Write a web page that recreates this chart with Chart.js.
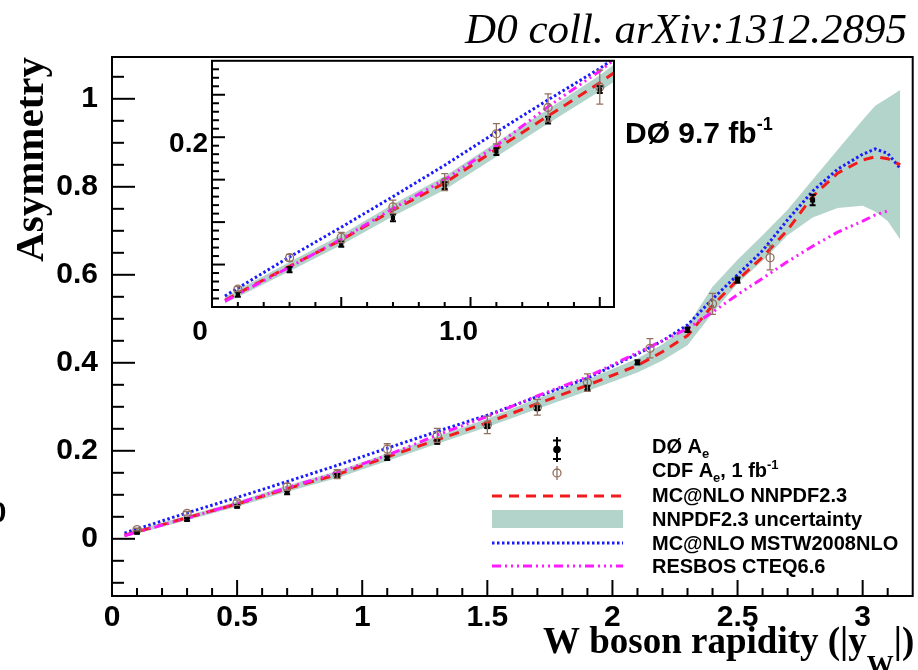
<!DOCTYPE html>
<html>
<head>
<meta charset="utf-8">
<title>W boson charge asymmetry</title>
<script src="https://cdn.jsdelivr.net/npm/chart.js@4.4.1/dist/chart.umd.min.js"></script>
<style>
  body { margin: 0; background: #fff; }
  #wrap { position: relative; width: 918px; height: 670px; overflow: hidden; }
  #main { position: absolute; left: 0; top: 0; }
  #inset { position: absolute; left: 150px; top: 40px; }
</style>
</head>
<body>
<div id="wrap">
  <canvas id="main" width="918" height="670"></canvas>
  <canvas id="inset" width="480" height="310"></canvas>
</div>
<script>
// DØ electron asymmetry (bin centres in |y_W|)
const d0X   = [0.1, 0.3, 0.5, 0.7, 0.9, 1.1, 1.3, 1.5, 1.7, 1.9, 2.1, 2.3, 2.5, 2.8];
const d0Y   = [0.015, 0.044, 0.074, 0.105, 0.143, 0.183, 0.220, 0.256, 0.297, 0.343, 0.401, 0.475, 0.588, 0.770];
const d0Err = [0.003, 0.003, 0.003, 0.004, 0.004, 0.004, 0.004, 0.004, 0.004, 0.005, 0.005, 0.005, 0.006, 0.012];

// CDF 1 fb-1 result
const cdfX   = [0.1, 0.3, 0.5, 0.7, 0.9, 1.1, 1.3, 1.5, 1.7, 1.9, 2.15, 2.4, 2.63];
const cdfY   = [0.021, 0.058, 0.082, 0.118, 0.147, 0.204, 0.235, 0.259, 0.299, 0.355, 0.433, 0.534, 0.639];
const cdfErr = [0.003, 0.004, 0.006, 0.008, 0.010, 0.012, 0.016, 0.020, 0.018, 0.020, 0.022, 0.024, 0.028];

// predictions
const curveX  = [0.05, 0.3, 0.5, 0.7, 0.9, 1.1, 1.3, 1.5, 1.7, 1.9, 2.1, 2.2, 2.3, 2.4, 2.5, 2.6, 2.7, 2.8, 2.9, 3.0, 3.05, 3.1, 3.15];
const nnpdf   = [0.008, 0.048, 0.079, 0.114, 0.146, 0.186, 0.225, 0.264, 0.307, 0.349, 0.394, 0.425, 0.462, 0.530, 0.588, 0.640, 0.702, 0.778, 0.831, 0.861, 0.868, 0.864, 0.850];
const nnpdfHi = [0.012, 0.053, 0.085, 0.121, 0.154, 0.194, 0.233, 0.273, 0.319, 0.362, 0.410, 0.442, 0.484, 0.573, 0.634, 0.690, 0.748, 0.816, 0.884, 0.952, 0.984, 1.002, 1.020];
const nnpdfLo = [0.004, 0.042, 0.073, 0.107, 0.138, 0.177, 0.216, 0.254, 0.295, 0.336, 0.378, 0.405, 0.440, 0.513, 0.580, 0.632, 0.690, 0.730, 0.752, 0.757, 0.744, 0.722, 0.680];
const mstw    = [0.013, 0.059, 0.094, 0.130, 0.167, 0.206, 0.244, 0.281, 0.323, 0.365, 0.420, 0.450, 0.486, 0.545, 0.600, 0.655, 0.725, 0.790, 0.840, 0.874, 0.886, 0.876, 0.842];
const resbos  = [0.007, 0.047, 0.080, 0.116, 0.150, 0.190, 0.236, 0.278, 0.325, 0.368, 0.423, 0.450, 0.478, 0.515, 0.555, 0.592, 0.630, 0.665, 0.697, 0.722, 0.736, 0.745, null];

// tick labels
const mainXLabels  = ['0', '0.5', '1', '1.5', '2', '2.5', '3'];
const mainYLabels  = ['0', '0.2', '0.4', '0.6', '0.8', '1'];
const insetXLabels = ['0', '1.0'];
const insetYLabels = ['0.2'];

const SANS  = '"Liberation Sans", Arial, sans-serif';
const SERIF = '"Liberation Serif", "Times New Roman", serif';
const RED = '#f21b1b', BLUE = '#1a1aff', MAGENTA = '#ff1aff', BROWN = '#93705f', BAND = '#b3d4cb';

Chart.defaults.font.family = SANS;
Chart.defaults.font.weight = 'bold';
Chart.defaults.color = '#000';

function tickValues(from, to, step) {
  const out = [];
  for (let v = from; v <= to + step / 2; v += step) out.push(Math.round(v * 1000) / 1000);
  return out;
}

const labelFrom = list => v => {
  const l = list.find(s => Math.abs(parseFloat(s) - v) < 1e-6);
  return l === undefined ? '' : l;
};

const pts = (xs, ys) => xs.map((x, i) => ({ x, y: ys[i] }));

function makeDatasets(small) {
  return [
    { label: 'DØ', data: pts(d0X, d0Y), showLine: false, pointStyle: 'rect',
      pointRadius: small ? 3 : 3.5, pointBackgroundColor: '#000', pointBorderColor: '#000', pointBorderWidth: 0,
      errors: d0Err, errColor: '#000', errWidth: 2, capHalf: 3, order: 1 },
    { label: 'CDF', data: pts(cdfX, cdfY), showLine: false, pointStyle: 'circle',
      pointRadius: 4, pointBackgroundColor: 'rgba(0,0,0,0)', pointBorderColor: BROWN, pointBorderWidth: 1.3,
      errors: cdfErr, errColor: BROWN, errWidth: 1.3, capHalf: 3.5, order: 2 },
    { label: 'RESBOS CTEQ6.6', data: pts(curveX, resbos), borderColor: MAGENTA, borderWidth: 3,
      borderDash: [9, 4, 2, 4, 2, 4, 2, 4], pointRadius: 0, order: 3 },
    { label: 'MC@NLO NNPDF2.3', data: pts(curveX, nnpdf), borderColor: RED, borderWidth: 3,
      borderDash: [10, 7], pointRadius: 0, order: 4 },
    { label: 'MC@NLO MSTW2008NLO', data: pts(curveX, mstw), borderColor: BLUE, borderWidth: 3,
      borderDash: [2.5, 2.5], pointRadius: 0, order: 5 },
    { label: 'band low', data: pts(curveX, nnpdfLo), borderColor: 'rgba(0,0,0,0)', borderWidth: 1,
      pointRadius: 0, fill: false, order: 10 },
    { label: 'NNPDF2.3 uncertainty', data: pts(curveX, nnpdfHi), borderColor: 'rgba(0,0,0,0)', borderWidth: 1,
      pointRadius: 0, fill: '-1', backgroundColor: BAND, order: 9 }
  ];
}

// ticks pointing into the frame, plus the frame itself
const innerTicks = {
  id: 'innerTicks',
  afterDraw(chart, args, opts) {
    const { ctx, chartArea: a } = chart;
    ctx.save();
    ctx.strokeStyle = '#000';
    ctx.lineWidth = 2;
    ['x', 'y'].forEach(id => {
      const s = chart.scales[id];
      const t = opts[id];
      s.ticks.forEach(tk => {
        const p = s.getPixelForValue(tk.value);
        const r = tk.value / t.major;
        const len = Math.abs(r - Math.round(r)) < 1e-6 ? t.long : t.short;
        ctx.beginPath();
        if (id === 'x') {
          if (p < a.left + 2 || p > a.right - 2) return;
          ctx.moveTo(p, a.bottom); ctx.lineTo(p, a.bottom - len);
        } else {
          if (p < a.top + 2 || p > a.bottom - 2) return;
          ctx.moveTo(a.left, p); ctx.lineTo(a.left + len, p);
        }
        ctx.stroke();
      });
    });
    ctx.strokeRect(a.left, a.top, a.right - a.left, a.bottom - a.top);
    ctx.restore();
  }
};

// vertical error bars with caps
const errorBars = {
  id: 'errorBars',
  afterDatasetsDraw(chart) {
    const { ctx, chartArea: a, scales: { x, y } } = chart;
    ctx.save();
    ctx.beginPath();
    ctx.rect(a.left, a.top, a.right - a.left, a.bottom - a.top);
    ctx.clip();
    chart.data.datasets.forEach(ds => {
      if (!ds.errors) return;
      ctx.strokeStyle = ds.errColor;
      ctx.lineWidth = ds.errWidth;
      ds.data.forEach((pt, i) => {
        const px = x.getPixelForValue(pt.x);
        const y1 = y.getPixelForValue(pt.y - ds.errors[i]);
        const y2 = y.getPixelForValue(pt.y + ds.errors[i]);
        ctx.beginPath();
        ctx.moveTo(px, y1); ctx.lineTo(px, y2);
        ctx.moveTo(px - ds.capHalf, y1); ctx.lineTo(px + ds.capHalf, y1);
        ctx.moveTo(px - ds.capHalf, y2); ctx.lineTo(px + ds.capHalf, y2);
        ctx.stroke();
      });
    });
    ctx.restore();
  }
};

function richText(ctx, x, y, parts, family, weight) {
  parts.forEach(p => {
    ctx.font = `${weight} ${p.size}px ${family}`;
    ctx.fillText(p.t, x, y + (p.dy || 0));
    x += ctx.measureText(p.t).width;
  });
  return x;
}

function strokeSample(ctx, ds, x0, x1, y) {
  ctx.save();
  ctx.strokeStyle = ds.borderColor;
  ctx.lineWidth = ds.borderWidth;
  ctx.setLineDash(ds.borderDash || []);
  ctx.beginPath(); ctx.moveTo(x0, y); ctx.lineTo(x1, y); ctx.stroke();
  ctx.restore();
}

function drawLegend(chart) {
  const ctx = chart.ctx;
  const ds = chart.data.datasets;
  const x0 = 492, x1 = 623, xm = 557, tx = 652;
  ctx.save();
  ctx.textAlign = 'left';
  ctx.textBaseline = 'alphabetic';
  ctx.fillStyle = '#000';

  // DØ marker
  ctx.strokeStyle = '#000'; ctx.lineWidth = 2;
  ctx.beginPath();
  ctx.moveTo(xm, 437); ctx.lineTo(xm, 462);
  ctx.moveTo(xm - 4, 440.5); ctx.lineTo(xm + 4, 440.5);
  ctx.moveTo(xm - 4, 459); ctx.lineTo(xm + 4, 459);
  ctx.stroke();
  ctx.beginPath(); ctx.arc(xm, 449.5, 3.8, 0, Math.PI * 2); ctx.fill();
  richText(ctx, tx, 453, [{ t: 'DØ A', size: 20 }, { t: 'e', size: 13, dy: 5 }], SANS, 'bold');

  // CDF marker
  ctx.strokeStyle = BROWN; ctx.lineWidth = 1.3;
  ctx.beginPath(); ctx.arc(xm, 473, 4, 0, Math.PI * 2);
  ctx.moveTo(xm, 466); ctx.lineTo(xm, 480);
  ctx.stroke();
  richText(ctx, tx, 477, [{ t: 'CDF A', size: 20 }, { t: 'e', size: 13, dy: 5 },
    { t: ', 1 fb', size: 20 }, { t: '-1', size: 13, dy: -8 }], SANS, 'bold');

  strokeSample(ctx, ds[3], x0, x1, 496);
  richText(ctx, tx, 502, [{ t: ds[3].label, size: 20 }], SANS, 'bold');

  ctx.fillStyle = BAND;
  ctx.fillRect(x0, 510, x1 - x0, 18);
  ctx.fillStyle = '#000';
  richText(ctx, tx, 526, [{ t: ds[6].label, size: 20 }], SANS, 'bold');

  strokeSample(ctx, ds[4], x0, x1, 543);
  richText(ctx, tx, 550, [{ t: ds[4].label, size: 20 }], SANS, 'bold');

  strokeSample(ctx, ds[2], x0, x1, 566);
  richText(ctx, tx, 573, [{ t: ds[2].label, size: 20 }], SANS, 'bold');
  ctx.restore();
}

// titles, luminosity tag and legend on the main pad
const mainDecor = {
  id: 'mainDecor',
  afterDraw(chart) {
    const ctx = chart.ctx;
    ctx.save();
    ctx.fillStyle = '#000';
    ctx.textBaseline = 'alphabetic';

    ctx.font = `italic 43px ${SERIF}`;
    ctx.textAlign = 'right';
    ctx.fillText('D0 coll. arXiv:1312.2895', 907, 43);

    ctx.save();
    ctx.translate(43, 57);
    ctx.rotate(-Math.PI / 2);
    ctx.font = `bold 41px ${SERIF}`;
    ctx.fillText('Asymmetry', 0, 0);
    ctx.restore();

    ctx.textAlign = 'left';
    richText(ctx, 543, 653, [{ t: 'W boson rapidity (|y', size: 37 }, { t: 'W', size: 27, dy: 21 },
      { t: '|)', size: 37 }], SERIF, 'bold');
    richText(ctx, 625, 143, [{ t: 'DØ 9.7 fb', size: 30 }, { t: '-1', size: 18, dy: -13 }], SANS, 'bold');

    // label cut off at the left edge
    ctx.textAlign = 'center';
    ctx.font = `bold 30px ${SANS}`;
    ctx.fillText('0', -2, 522);
    ctx.restore();

    drawLegend(chart);
  }
};

// white pad behind the zoomed inset
const insetBackground = {
  id: 'insetBackground',
  beforeDraw(chart) {
    const { ctx, chartArea: a } = chart;
    ctx.save();
    ctx.fillStyle = '#fff';
    ctx.fillRect(a.left, a.top, a.right - a.left, a.bottom - a.top);
    ctx.restore();
  }
};

function axis(opts) {
  return {
    type: 'linear',
    min: opts.min,
    max: opts.max,
    afterBuildTicks: s => { s.ticks = opts.ticks.map(v => ({ value: v })); },
    afterFit: s => { if (opts.width) s.width = opts.width; if (opts.height) s.height = opts.height; },
    grid: { display: false, drawTicks: false },
    border: { display: false },
    ticks: {
      autoSkip: false, maxRotation: 0, minRotation: 0,
      padding: opts.padding, labelOffset: opts.labelOffset || 0,
      font: { size: opts.fontSize, weight: 'bold' }, color: '#000',
      callback: labelFrom(opts.labels)
    }
  };
}

new Chart(document.getElementById('main'), {
  type: 'line',
  data: { datasets: makeDatasets(false) },
  options: {
    responsive: false, animation: false, events: [], devicePixelRatio: 1,
    layout: { padding: { top: 57, right: 3, left: 0, bottom: 0 } },
    scales: {
      x: axis({ min: 0, max: 3.2, ticks: tickValues(0, 3.2, 0.1), labels: mainXLabels, height: 74, padding: 4, fontSize: 30 }),
      y: axis({ min: -0.13, max: 1.095, ticks: tickValues(-0.1, 1.05, 0.05), labels: mainYLabels, width: 112, padding: 14, fontSize: 30 })
    },
    plugins: {
      legend: { display: false },
      tooltip: { enabled: false },
      innerTicks: { x: { major: 0.5, long: 16, short: 8 }, y: { major: 0.2, long: 23, short: 12 } }
    }
  },
  plugins: [innerTicks, errorBars, mainDecor]
});

new Chart(document.getElementById('inset'), {
  type: 'line',
  data: { datasets: makeDatasets(true) },
  options: {
    responsive: false, animation: false, events: [], devicePixelRatio: 1,
    layout: { padding: { top: 17, right: 16, left: 0, bottom: 0 } },
    scales: {
      x: axis({ min: 0, max: 1.555, ticks: tickValues(0, 1.5, 0.1), labels: insetXLabels, height: 43, padding: 8, fontSize: 28, labelOffset: -12 }),
      y: axis({ min: 0, max: 0.29, ticks: tickValues(0, 0.28, 0.01), labels: insetYLabels, width: 62, padding: 4, fontSize: 28, labelOffset: 7 })
    },
    plugins: {
      legend: { display: false },
      tooltip: { enabled: false },
      innerTicks: { x: { major: 0.5, long: 10, short: 5 }, y: { major: 0.05, long: 13, short: 7 } }
    }
  },
  plugins: [insetBackground, innerTicks, errorBars]
});
</script>
</body>
</html>
